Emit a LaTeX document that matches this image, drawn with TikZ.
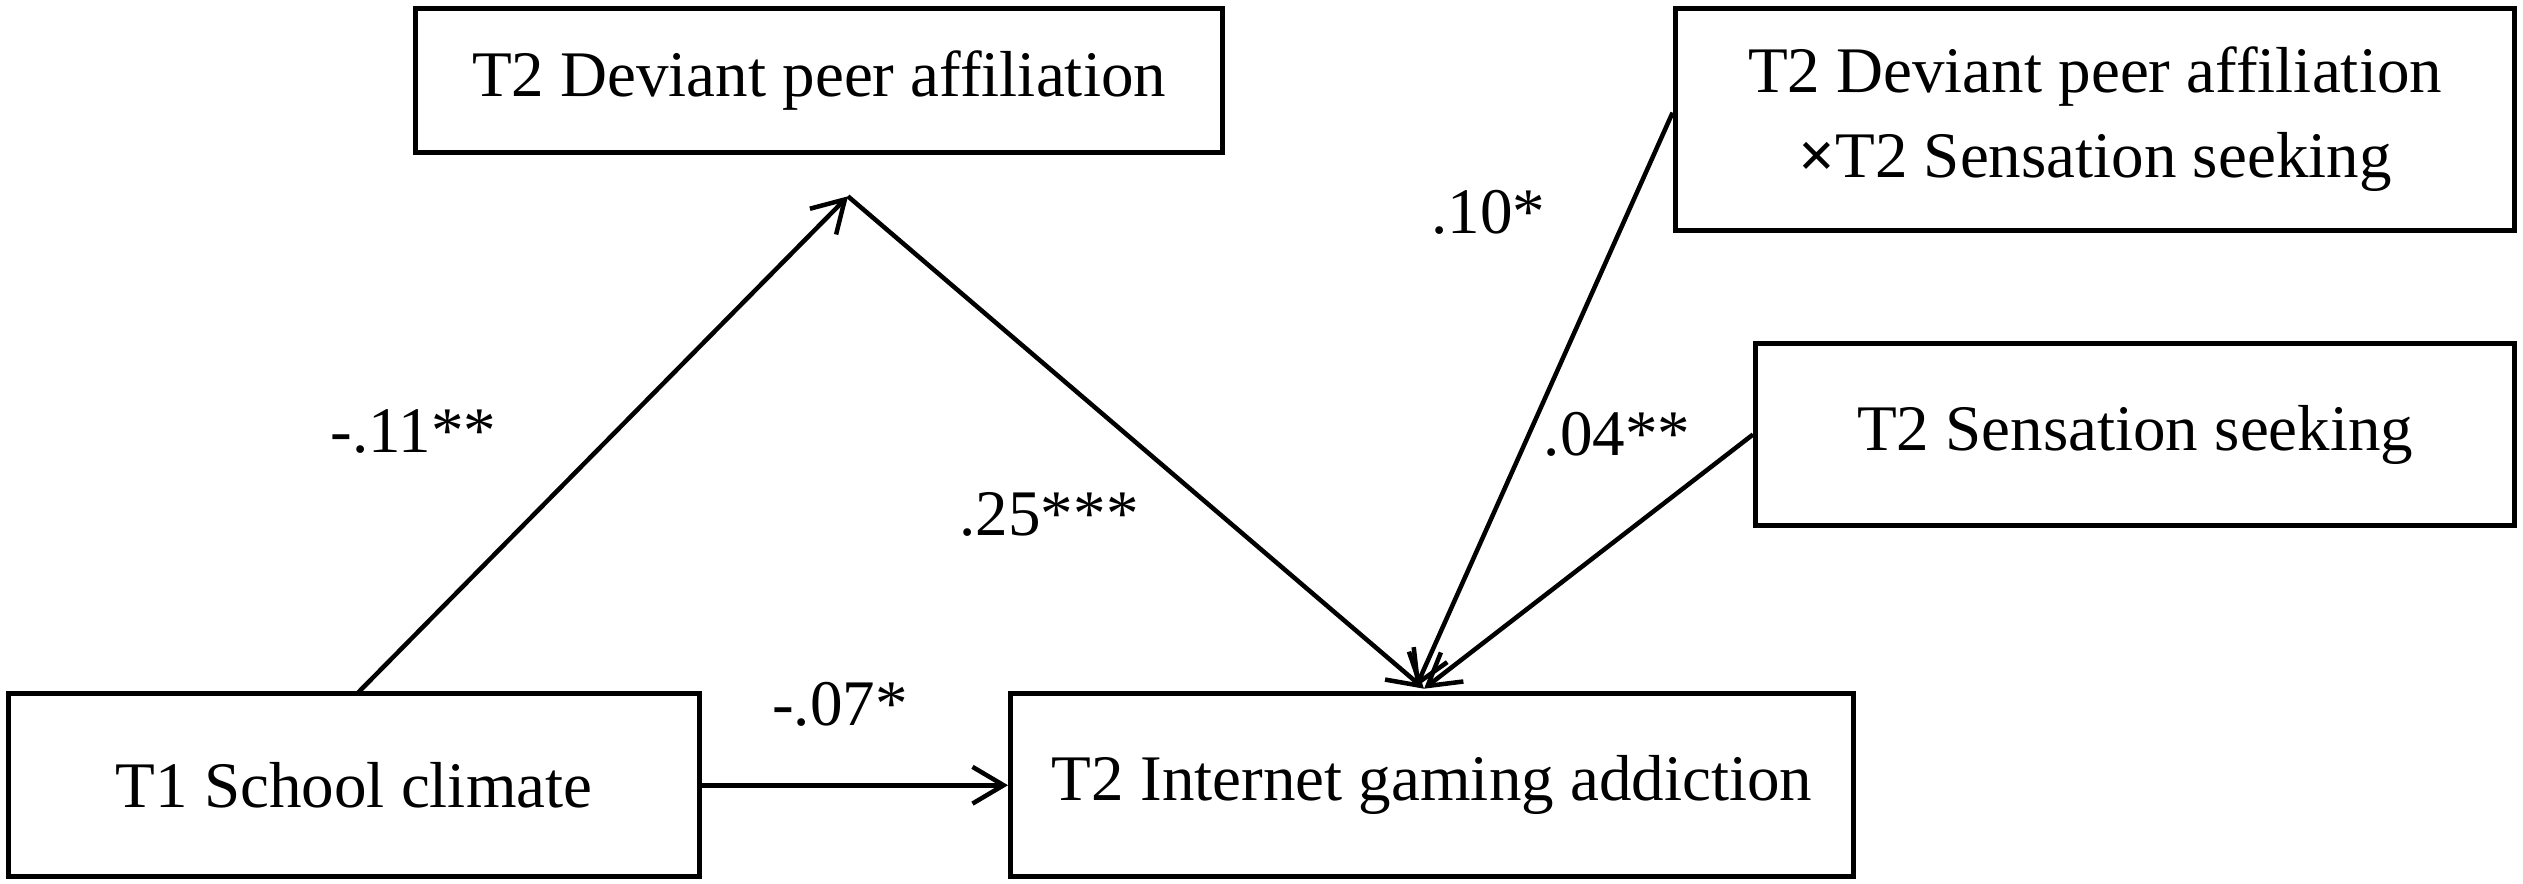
\documentclass[tikz,border=0pt]{standalone}
\usepackage{fontspec}
\setmainfont{Liberation Serif}
\usetikzlibrary{arrows.meta}
\begin{document}
\begin{tikzpicture}[x=0.02cm,y=-0.02cm,
  box/.style={draw,line width=1.8pt,inner sep=0pt,font=\fontsize{23}{30}\selectfont,align=center},
  lab/.style={font=\fontsize{23}{27}\selectfont},
  arr/.style={line width=1.6pt,-{Straight Barb[length=11pt,width=13pt,line width=1.6pt]}}]
\useasboundingbox (0,0) rectangle (1568,549);
\node[box,minimum width=10.04cm,minimum height=1.8cm] (dpa) at (509,50) {T2 Deviant peer affiliation};
\node[box,minimum width=10.44cm,minimum height=2.76cm] (int) at (1302,74) {T2 Deviant peer affiliation\\\textbf{×}T2 Sensation seeking};
\node[box,minimum width=9.44cm,minimum height=2.26cm] (ss) at (1327,270) {T2 Sensation seeking};
\node[box,minimum width=8.6cm,minimum height=2.28cm] (sc) at (220,488) {T1 School climate};
\node[box,minimum width=10.48cm,minimum height=2.28cm] (iga) at (890,488) {T2 Internet gaming addiction};
\coordinate (apex) at (527,122);
\coordinate (tip) at (885,428);
\coordinate (tip2) at (880,427);
\coordinate (scfoot) at (222,431);
\draw[arr] (scfoot) -- (apex);
\draw[arr] (apex) -- (tip);
\draw[arr] ([yshift=0.08cm]int.west) -- (tip2);
\draw[arr] (ss.west) -- (tip);
\draw[arr] (sc.east) -- (iga.west);
\node[lab] (l1) at (257,268) {-.11**};
\node[lab] (l2) at (652,320) {.25***};
\node[lab] (l3) at (925,132) {.10*};
\node[lab] (l4) at (1005,270) {.04**};
\node[lab] (l5) at (522,438) {-.07*};
\end{tikzpicture}
\end{document}
